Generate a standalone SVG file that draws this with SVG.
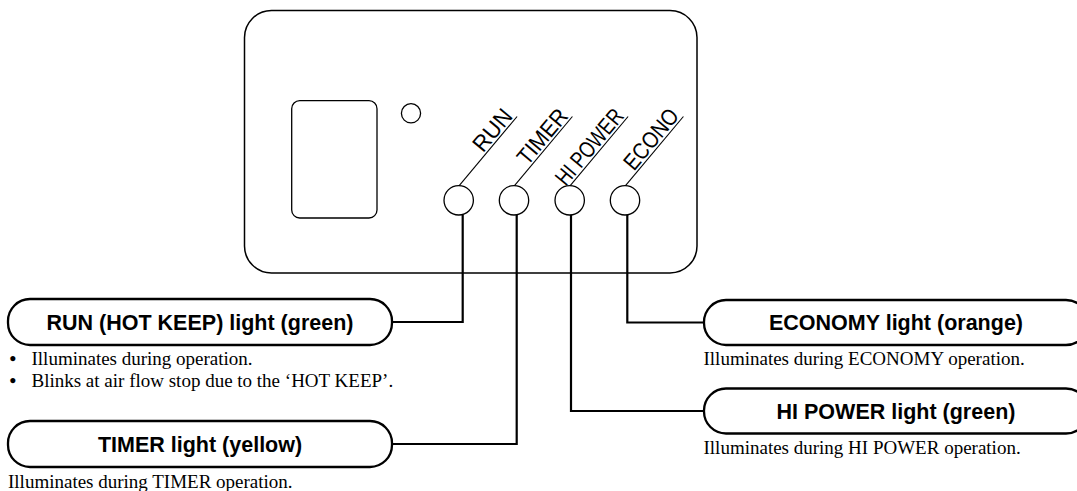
<svg xmlns="http://www.w3.org/2000/svg" width="1077" height="491" viewBox="0 0 1077 491">
<style>
.panel{fill:none;stroke:#000;stroke-width:1.5}
.thin{fill:none;stroke:#000;stroke-width:1.3}
.diag{fill:none;stroke:#000;stroke-width:1.1}
.pill{fill:#fff;stroke:#000;stroke-width:2.3}
.conn{fill:none;stroke:#000;stroke-width:2.2;stroke-linejoin:miter}
.lab{font-family:"Liberation Sans",Arial,sans-serif;font-size:23px;fill:#000}
.head{font-family:"Liberation Sans",Arial,sans-serif;font-size:21.5px;font-weight:bold;fill:#000;text-anchor:middle}
.desc{font-family:"Liberation Serif","Times New Roman",serif;font-size:19px;fill:#000}
.bul{font-weight:bold}
</style>
<rect width="1077" height="491" fill="#fff"/>
<g id="panel">
<rect class="panel" x="244.5" y="10.5" width="452.5" height="262.5" rx="27" ry="27"/>
<rect class="thin" x="291.7" y="100.7" width="85.3" height="117.3" rx="8" ry="8"/>
<circle class="thin" cx="411" cy="113.3" r="9.6"/>
</g>
<g id="led-run">
<circle class="thin" cx="458.7" cy="200.3" r="14.7"/>
<line class="diag" x1="459.2" y1="185.6" x2="517.1" y2="116.5"/>
<text class="lab" textLength="48" lengthAdjust="spacingAndGlyphs" transform="translate(483,153.4) rotate(-50)">RUN</text>
</g>
<g id="led-timer">
<circle class="thin" cx="514" cy="200.3" r="14.7"/>
<line class="diag" x1="514.5" y1="185.6" x2="572.4" y2="116.5"/>
<text class="lab" textLength="65" lengthAdjust="spacingAndGlyphs" transform="translate(527.4,166.4) rotate(-50)">TIMER</text>
</g>
<g id="led-hipower">
<circle class="thin" cx="569.7" cy="200.3" r="14.7"/>
<line class="diag" x1="570.2" y1="185.6" x2="628.1" y2="116.5"/>
<text class="lab" textLength="92" lengthAdjust="spacingAndGlyphs" transform="translate(565.7,187.1) rotate(-50)">HI POWER</text>
</g>
<g id="led-econo">
<circle class="thin" cx="625" cy="200.3" r="14.7"/>
<line class="diag" x1="625.5" y1="185.6" x2="683.4" y2="116.5"/>
<text class="lab" textLength="72" lengthAdjust="spacingAndGlyphs" transform="translate(633.9,171.7) rotate(-50)">ECONO</text>
</g>
<g id="connectors">
<path class="conn" d="M462.7,214.5 V322 H392"/>
<path class="conn" d="M516.7,215 V444 H392"/>
<path class="conn" d="M571,215 V411 H704"/>
<path class="conn" d="M627.3,215 V322.5 H704"/>
</g>
<g id="run-light">
<rect class="pill" x="8" y="299" width="384" height="46" rx="22" ry="22"/>
<text class="head" x="200" y="329.5">RUN (HOT KEEP) light (green)</text>
<text class="desc" y="364.5"><tspan class="bul" x="9.5">•</tspan><tspan x="31.5">Illuminates during operation.</tspan></text>
<text class="desc" y="386.5"><tspan class="bul" x="9.5">•</tspan><tspan x="31.5">Blinks at air flow stop due to the ‘HOT KEEP’.</tspan></text>
</g>
<g id="timer-light">
<rect class="pill" x="8" y="421" width="384" height="46" rx="22" ry="22"/>
<text class="head" x="200" y="451.5">TIMER light (yellow)</text>
<text class="desc" x="8" y="487.5">Illuminates during TIMER operation.</text>
</g>
<g id="economy-light">
<rect class="pill" x="704" y="300" width="384" height="45" rx="22" ry="22"/>
<text class="head" x="896" y="330">ECONOMY light (orange)</text>
<text class="desc" x="703.5" y="364.5">Illuminates during ECONOMY operation.</text>
</g>
<g id="hipower-light">
<rect class="pill" x="704" y="388.5" width="384" height="45" rx="22" ry="22"/>
<text class="head" x="896" y="418.5">HI POWER light (green)</text>
<text class="desc" x="703.5" y="453.5">Illuminates during HI POWER operation.</text>
</g>
</svg>
